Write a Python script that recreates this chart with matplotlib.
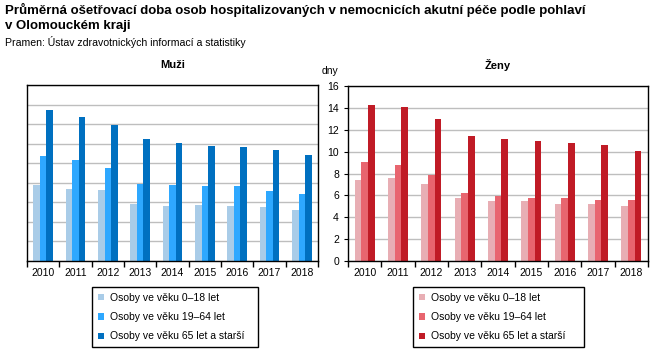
import numpy as np
import matplotlib.pyplot as plt
from matplotlib.patches import Patch

plt.rcParams['font.family'] = ['Liberation Sans', 'DejaVu Sans']

years = ['2010', '2011', '2012', '2013', '2014', '2015', '2016', '2017', '2018']
groups = ['Osoby ve věku 0–18 let', 'Osoby ve věku 19–64 let', 'Osoby ve věku 65 let a starší']

muzi_0_18 = [7.8, 7.4, 7.3, 5.85, 5.65, 5.75, 5.65, 5.55, 5.25]
muzi_19_64 = [10.75, 10.35, 9.5, 7.9, 7.8, 7.7, 7.7, 7.2, 6.9]
muzi_65 = [15.45, 14.75, 13.9, 12.5, 12.05, 11.75, 11.65, 11.35, 10.85]

zeny_0_18 = [7.45, 7.6, 7.05, 5.8, 5.5, 5.5, 5.25, 5.25, 5.05]
zeny_19_64 = [9.05, 8.8, 7.9, 6.25, 5.95, 5.8, 5.8, 5.6, 5.6]
zeny_65 = [14.25, 14.05, 13.0, 11.45, 11.15, 11.0, 10.8, 10.6, 10.1]

blues = ['#A9CCE8', '#2EA8FF', '#0070C0']
reds = ['#E8AEB4', '#E8656F', '#C01B26']

W, H = 657, 354
fig = plt.figure(figsize=(W / 100, H / 100), dpi=100)


def px_axes(x0, y0, x1, y1):
    return fig.add_axes([x0 / W, 1 - y1 / H, (x1 - x0) / W, (y1 - y0) / H])


def draw_panel(ax, series, colors, ymax, title, show_labels):
    x = np.arange(len(years))
    bw = 0.2
    for i, vals in enumerate(series):
        ax.bar(x + (i - 1) * bw, vals, bw, color=colors[i], zorder=2)
    ax.set_xlim(-0.5, len(years) - 0.5)
    ax.set_ylim(0, ymax)
    ax.set_yticks(np.arange(0, ymax + 1, 2))
    ax.yaxis.grid(True, color='#BEBEBE', linewidth=1)
    ax.set_axisbelow(True)
    ax.set_xticks(x)
    ax.set_xticklabels(years, fontsize=7.5)
    ax.set_xticks(np.arange(-0.5, len(years)), minor=True)
    ax.tick_params(axis='x', which='major', length=0, pad=5)
    ax.tick_params(axis='x', which='minor', length=4, width=1, direction='out')
    if show_labels:
        ax.tick_params(axis='y', labelsize=7.5, length=3, direction='out')
    else:
        ax.tick_params(axis='y', length=0, labelleft=False)
    for s in ax.spines.values():
        s.set_linewidth(1)
    ax.set_title(title, fontsize=8, fontweight='bold', pad=12)


ax1 = px_axes(27, 85, 318, 261)
draw_panel(ax1, [muzi_0_18, muzi_19_64, muzi_65], blues, 18, 'Muži', False)

ax2 = px_axes(348, 86, 648, 261)
draw_panel(ax2, [zeny_0_18, zeny_19_64, zeny_65], reds, 16, 'Ženy', True)
ax2.text(-0.06, 1.07, 'dny', transform=ax2.transAxes, fontsize=7.5, ha='center')

fig.text(5 / W, 1 - 3 / H, 'Průměrná ošetřovací doba osob hospitalizovaných v nemocnicích akutní péče podle pohlaví\n'
         'v Olomouckém kraji', fontsize=9.5, fontweight='bold', va='top', linespacing=1.3)
fig.text(5 / W, 1 - 36 / H, 'Pramen: Ústav zdravotnických informací a statistiky', fontsize=7.6, va='top')

# legend boxes, pixel extents
for colors, x0, x1 in [(blues, 92, 258), (reds, 413, 584)]:
    handles = [Patch(facecolor=c, edgecolor='none') for c in colors]
    leg = fig.legend(handles, groups, loc='upper left', mode='expand',
                     bbox_to_anchor=(x0 / W, 0, (x1 - x0) / W, 1 - 287 / H),
                     borderaxespad=0, fontsize=7.5,
                     handlelength=0.6, handleheight=0.6, handletextpad=0.6,
                     labelspacing=0.9, borderpad=0.55, fancybox=False,
                     edgecolor='black', framealpha=1)
    leg.get_frame().set_linewidth(1)

fig.savefig('out.png', dpi=100)
